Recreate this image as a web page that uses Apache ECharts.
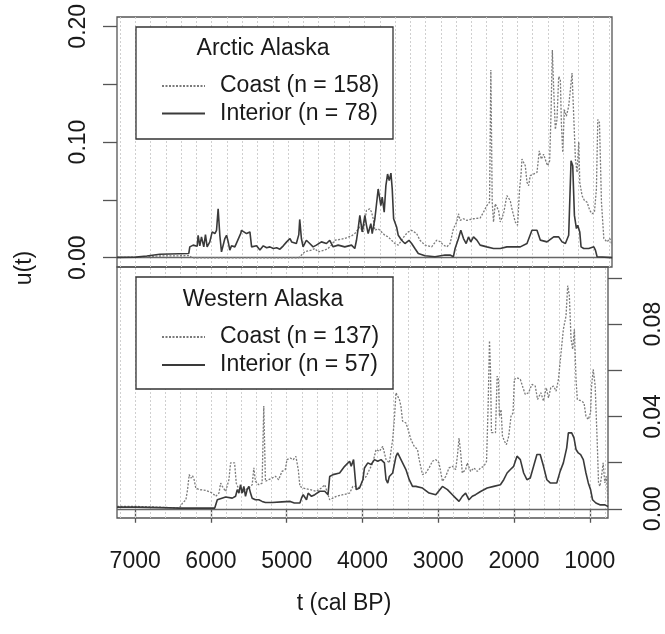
<!DOCTYPE html>
<html>
<head>
<meta charset="utf-8">
<script src="https://cdn.jsdelivr.net/npm/echarts@6/dist/echarts.min.js"></script>
<style>
	html, body { margin: 0; padding: 0; background: #fff; }
	#chart { width: 665px; height: 634px; }
</style>
</head>
<body>
<div id="chart"></div>
<script>
	// t (cal BP), u(t)
	var arcticCoast = [[7240,0.0003],[6990,0.0005],[6680,0.0015],[6290,0.0018],[6260,0],[4860,0],[4848,0.0008],[4783,0.0051],[4695,0.0066],[4651,0.0080],[4608,0.0051],[4520,0.0066],[4477,0.0080],[4433,0.0109],[4389,0.0151],[4302,0.0160],[4236,0.0172],[4170,0.0189],[4127,0.0209],[4105,0.0194],[4061,0.0266],[4017,0.0223],[3974,0.0409],[3930,0.0423],[3908,0.0394],[3886,0.0337],[3864,0.0237],[3821,0.0251],[3777,0.0223],[3733,0.0194],[3689,0.0180],[3646,0.0151],[3602,0.0123],[3558,0.0109],[3514,0.0151],[3471,0.0194],[3427,0.0223],[3383,0.0237],[3318,0.0209],[3274,0.0151],[3208,0.0109],[3121,0.0094],[3055,0.0151],[3011,0.0140],[2967,0.0109],[2923,0.0094],[2879,0.0123],[2836,0.0252],[2792,0.0309],[2770,0.0380],[2748,0.0323],[2704,0.0337],[2661,0.0323],[2573,0.0337],[2486,0.0343],[2442,0.0394],[2398,0.0451],[2363,0.0480],[2346,0.1623],[2328,0.0480],[2311,0.0309],[2289,0.0466],[2245,0.0409],[2223,0.0309],[2180,0.0380],[2136,0.0537],[2092,0.0494],[2070,0.0423],[2027,0.0309],[1996,0.0280],[1970,0.0595],[1952,0.0709],[1939,0.0852],[1917,0.0837],[1895,0.0795],[1873,0.0652],[1852,0.0623],[1830,0.0709],[1786,0.0723],[1742,0.0737],[1712,0.0923],[1685,0.0852],[1655,0.0895],[1620,0.0823],[1602,0.0795],[1576,0.0837],[1558,0.1252],[1541,0.1795],[1523,0.1452],[1502,0.1109],[1480,0.1195],[1458,0.1566],[1436,0.1538],[1423,0.1166],[1405,0.0909],[1384,0.1280],[1357,0.1223],[1327,0.1309],[1283,0.1595],[1261,0.1223],[1239,0.0852],[1217,0.0737],[1195,0.1000],[1182,0.0652],[1152,0.0537],[1121,0.0494],[1086,0.0480],[1051,0.0409],[1020,0.0380],[990,0.0394],[964,0.0595],[946,0.1194],[924,0.1166],[898,0.0480],[867,0.0166],[824,0.0137],[789,0.0166],[758,0.0109]];

	var arcticInterior = [[7240,0.0003],[6990,0.0005],[6850,0.0015],[6680,0.0030],[6300,0.0037],[6287,0.0094],[6243,0.0109],[6190,0.0100],[6178,0.0194],[6156,0.0103],[6134,0.0180],[6104,0.0094],[6082,0.0200],[6060,0.0094],[6025,0.0137],[5994,0.0223],[5959,0.0209],[5937,0.0237],[5916,0.0423],[5894,0.0194],[5872,0.0051],[5850,0.0066],[5828,0.0166],[5806,0.0194],[5784,0.0137],[5763,0.0066],[5741,0.0103],[5697,0.0094],[5620,0.0210],[5610,0.0237],[5588,0.0223],[5544,0.0209],[5500,0.0223],[5478,0.0094],[5456,0.0080],[5413,0.0103],[5369,0.0066],[5325,0.0103],[5281,0.0086],[5238,0.0094],[5194,0.0080],[5150,0.0086],[5107,0.0074],[5063,0.0103],[5019,0.0137],[4975,0.0166],[4954,0.0137],[4892,0.0123],[4860,0.0200],[4848,0.0331],[4826,0.0166],[4804,0.0094],[4761,0.0151],[4717,0.0123],[4673,0.0094],[4630,0.0109],[4564,0.0137],[4498,0.0123],[4455,0.0151],[4411,0.0094],[4345,0.0109],[4258,0.0094],[4170,0.0109],[4127,0.0080],[4105,0.0151],[4083,0.0251],[4061,0.0366],[4030,0.0223],[3995,0.0366],[3974,0.0280],[3952,0.0209],[3917,0.0294],[3899,0.0209],[3864,0.0337],[3821,0.0594],[3786,0.0451],[3768,0.0523],[3742,0.0394],[3720,0.0623],[3698,0.0723],[3676,0.0666],[3654,0.0731],[3637,0.0594],[3619,0.0337],[3580,0.0266],[3558,0.0194],[3514,0.0151],[3471,0.0123],[3418,0.0151],[3383,0.0123],[3340,0.0080],[3296,0.0037],[3208,0.0017],[3077,0.0008],[2946,0.0023],[2880,0.0023],[2836,0.0009],[2814,0.0080],[2770,0.0166],[2739,0.0237],[2704,0.0166],[2669,0.0123],[2639,0.0180],[2608,0.0137],[2573,0.0180],[2529,0.0152],[2486,0.0109],[2398,0.0094],[2311,0.0080],[2223,0.0080],[2136,0.0094],[2048,0.0094],[1961,0.0094],[1873,0.0123],[1808,0.0237],[1742,0.0237],[1698,0.0152],[1611,0.0137],[1523,0.0180],[1458,0.0180],[1414,0.0137],[1370,0.0123],[1327,0.0194],[1296,0.0838],[1274,0.0795],[1252,0.0366],[1226,0.0252],[1209,0.0280],[1182,0.0223],[1165,0.0094],[1130,0.0080],[1064,0.0080],[998,0.0094],[977,0.0066],[955,0.0009],[758,0.0001]];

	var westernCoast = [[7240,0.0010],[6987,0.0010],[6681,0.0007],[6418,0.0003],[6375,0.0025],[6331,0.0039],[6309,0.0083],[6287,0.0148],[6265,0.0133],[6243,0.0143],[6222,0.0126],[6200,0.0090],[6156,0.0083],[6069,0.0080],[5981,0.0068],[5937,0.0054],[5916,0.0046],[5894,0.0068],[5872,0.0111],[5850,0.0097],[5806,0.0075],[5763,0.0126],[5741,0.0199],[5719,0.0206],[5688,0.0199],[5666,0.0111],[5631,0.0083],[5588,0.0068],[5544,0.0083],[5500,0.0090],[5478,0.0083],[5456,0.0104],[5434,0.0177],[5413,0.0119],[5369,0.0104],[5325,0.0111],[5303,0.0445],[5281,0.0119],[5238,0.0126],[5194,0.0133],[5150,0.0141],[5107,0.0126],[5063,0.0162],[5019,0.0170],[4997,0.0213],[4954,0.0220],[4914,0.0213],[4879,0.0227],[4848,0.0170],[4826,0.0097],[4783,0.0090],[4695,0.0083],[4608,0.0076],[4542,0.0090],[4498,0.0104],[4476,0.0097],[4433,0.0039],[4345,0.0054],[4258,0.0061],[4170,0.0068],[4127,0.0097],[4083,0.0097],[4039,0.0090],[3995,0.0126],[3952,0.0140],[3908,0.0170],[3864,0.0199],[3821,0.0257],[3777,0.0249],[3733,0.0271],[3689,0.0213],[3646,0.0199],[3602,0.0300],[3580,0.0387],[3558,0.0503],[3536,0.0503],[3514,0.0474],[3493,0.0445],[3471,0.0380],[3427,0.0372],[3405,0.0351],[3361,0.0300],[3318,0.0271],[3274,0.0257],[3252,0.0213],[3208,0.0148],[3165,0.0155],[3121,0.0177],[3077,0.0206],[3033,0.0213],[2990,0.0199],[2945,0.0119],[2901,0.0141],[2858,0.0177],[2814,0.0184],[2770,0.0170],[2748,0.0228],[2726,0.0307],[2704,0.0242],[2683,0.0155],[2639,0.0170],[2617,0.0199],[2573,0.0162],[2529,0.0177],[2486,0.0162],[2442,0.0177],[2398,0.0184],[2363,0.0206],[2341,0.0459],[2324,0.0728],[2311,0.0604],[2298,0.0330],[2276,0.0322],[2245,0.0330],[2223,0.0575],[2206,0.0561],[2193,0.0401],[2171,0.0430],[2153,0.0315],[2127,0.0293],[2101,0.0278],[2070,0.0315],[2040,0.0401],[2013,0.0416],[1996,0.0561],[1961,0.0568],[1917,0.0561],[1882,0.0525],[1852,0.0496],[1808,0.0503],[1764,0.0539],[1720,0.0532],[1690,0.0474],[1646,0.0503],[1611,0.0467],[1576,0.0525],[1545,0.0481],[1515,0.0525],[1480,0.0532],[1445,0.0510],[1414,0.0561],[1384,0.0662],[1349,0.0778],[1314,0.0836],[1292,0.0967],[1270,0.0923],[1248,0.0736],[1226,0.0691],[1204,0.0778],[1182,0.0561],[1165,0.0474],[1139,0.0481],[1108,0.0467],[1077,0.0459],[1051,0.0401],[1020,0.0387],[990,0.0416],[977,0.0532],[955,0.0604],[929,0.0532],[902,0.0286],[885,0.0112],[867,0.0097],[845,0.0141],[824,0.0199],[802,0.0112],[780,0.0141],[758,0.0025]];

	var westernInterior = [[7240,0.0007],[6987,0.0007],[6681,0.0005],[6418,0.0003],[5950,0.0003],[5937,0.0010],[5916,0.0039],[5894,0.0046],[5806,0.0051],[5719,0.0046],[5675,0.0054],[5653,0.0083],[5631,0.0068],[5609,0.0104],[5588,0.0068],[5566,0.0097],[5544,0.0054],[5522,0.0083],[5500,0.0097],[5478,0.0068],[5456,0.0046],[5413,0.0039],[5369,0.0039],[5347,0.0046],[5325,0.0032],[5281,0.0027],[5194,0.0027],[5063,0.0030],[4954,0.0032],[4900,0.0025],[4826,0.0025],[4804,0.0047],[4783,0.0061],[4739,0.0039],[4717,0.0068],[4673,0.0054],[4630,0.0061],[4564,0.0076],[4498,0.0076],[4455,0.0061],[4433,0.0140],[4389,0.0148],[4302,0.0155],[4236,0.0184],[4214,0.0177],[4170,0.0206],[4149,0.0184],[4118,0.0213],[4105,0.0220],[4083,0.0083],[4039,0.0090],[3995,0.0126],[3974,0.0177],[3930,0.0199],[3886,0.0192],[3842,0.0213],[3799,0.0206],[3755,0.0213],[3711,0.0199],[3689,0.0126],[3667,0.0111],[3646,0.0140],[3602,0.0155],[3558,0.0227],[3536,0.0242],[3514,0.0242],[3471,0.0199],[3427,0.0170],[3383,0.0126],[3340,0.0097],[3296,0.0097],[3208,0.0090],[3121,0.0068],[3033,0.0061],[2945,0.0097],[2879,0.0083],[2814,0.0061],[2770,0.0046],[2726,0.0032],[2683,0.0054],[2639,0.0068],[2595,0.0039],[2551,0.0054],[2508,0.0061],[2442,0.0075],[2355,0.0090],[2267,0.0097],[2180,0.0104],[2136,0.0126],[2092,0.0155],[2048,0.0170],[2005,0.0184],[1961,0.0228],[1917,0.0213],[1873,0.0155],[1830,0.0126],[1786,0.0133],[1742,0.0184],[1698,0.0235],[1655,0.0235],[1611,0.0184],[1567,0.0126],[1523,0.0112],[1480,0.0112],[1436,0.0112],[1392,0.0162],[1349,0.0199],[1305,0.0264],[1283,0.0329],[1239,0.0329],[1209,0.0307],[1182,0.0257],[1152,0.0242],[1121,0.0235],[1086,0.0213],[1051,0.0155],[1020,0.0112],[990,0.0083],[964,0.0039],[920,0.0025],[867,0.0017],[802,0.0017],[758,0.0010]];

	var xTicks = [1000, 2000, 3000, 4000, 5000, 6000, 7000];
	var gridYears = [800,1000,1200,1400,1600,1800,2000,2200,2400,2600,2800,3000,3200,3400,3600,3800,4000,4200,4400,4600,4800,5000,5200,5400,5600,5800,6000,6200,6400,6600,6800,7000,7200];
	var topTicks = [0, 0.05, 0.10, 0.15, 0.20];
	var topLabels = [0, 0.10, 0.20];
	var bottomTicks = [0, 0.02, 0.04, 0.06, 0.08, 0.10];
	var bottomLabels = [0, 0.04, 0.08];
	var legendTop = ['Coast (n = 158)', 'Interior (n = 78)'];
	var legendBottom = ['Coast (n = 137)', 'Interior (n = 57)'];

	var font = 'Liberation Sans, Arial, sans-serif';
	var fs = 23;
	var ink = '#1a1a1a';
	var coastColor = '#7a7a7a';
	var interiorColor = '#3a3a3a';

	var myChart = echarts.init(document.getElementById('chart'));

	// dotted vertical guides every 200 yr plus the solid zero line
	function guideLines() {
		var d = gridYears.map(function(v) { return { xAxis: v }; });
		d.push({ yAxis: 0, lineStyle: { type: 'solid', color: '#666', width: 1.3 } });
		return {
			silent: true,
			symbol: ['none', 'none'],
			z: 1,
			label: { show: false },
			lineStyle: { type: [2, 2], color: '#cfcfcf', width: 1 },
			data: d
		};
	}

	function lineSeries(name, data, idx, dotted) {
		var s = {
			name: name,
			type: 'line',
			xAxisIndex: idx,
			yAxisIndex: idx,
			data: data,
			symbol: 'none',
			color: dotted ? coastColor : interiorColor,
			lineStyle: {
				color: dotted ? coastColor : interiorColor,
				width: dotted ? 1.3 : 1.6,
				type: dotted ? [2, 1.5] : 'solid'
			},
			z: dotted ? 2 : 3
		};
		if (dotted) s.markLine = guideLines();
		return s;
	}

	function legendBox(top) {
		return {
			type: 'rect',
			shape: { x: 136, y: top, width: 257, height: 112 },
			style: { fill: '#fff', stroke: '#333', lineWidth: 1.3 },
			z: 10
		};
	}

	function legendOpt(names, top, gap) {
		return {
			data: names,
			orient: 'vertical',
			left: 156,
			top: top,
			itemWidth: 43,
			itemHeight: 14,
			itemGap: gap,
			z: 20,
			itemStyle: { opacity: 0 },
			textStyle: { fontSize: fs, color: ink, lineHeight: 26, padding: [0, 0, 0, 10], fontFamily: font }
		};
	}

	function label(text, x, y, rot) {
		return {
			type: 'text', z: 11, x: x, y: y, rotation: rot || 0,
			style: { text: text, x: 0, y: 0, font: fs + 'px ' + font, fill: ink, textAlign: 'center', textVerticalAlign: 'middle' }
		};
	}

	var fmt = function(v) { return v.toFixed(2); };

	var option = {
		animation: false,
		backgroundColor: '#fff',
		textStyle: { fontFamily: font },
		grid: [
			{ left: 117, top: 17, width: 495, height: 250, show: true, borderColor: '#555', borderWidth: 1.3 },
			{ left: 117, top: 267, width: 495, height: 251, show: true, borderColor: '#555', borderWidth: 1.3 }
		],
		xAxis: [{
			gridIndex: 0,
			type: 'value',
			min: 760,
			max: 7240,
			inverse: true,
			axisLine: { show: false },
			axisTick: { show: false },
			axisLabel: { show: false },
			splitLine: { show: false }
		}, {
			gridIndex: 1,
			type: 'value',
			min: 760,
			max: 7240,
			inverse: true,
			axisLine: { show: false },
			axisTick: { show: true, customValues: xTicks, length: 14, lineStyle: { color: '#555', width: 1.3 } },
			axisLabel: {
				customValues: xTicks, fontSize: fs, color: ink, margin: 32, fontFamily: font,
				formatter: function(v) { return String(v); }
			},
			splitLine: { show: false }
		}],
		yAxis: [{
			gridIndex: 0,
			type: 'value',
			position: 'left',
			min: -0.008,
			max: 0.208,
			axisLine: { show: false },
			axisTick: { show: true, customValues: topTicks, length: 14, lineStyle: { color: '#555', width: 1.3 } },
			axisLabel: { customValues: topLabels, rotate: 90, fontSize: fs, color: ink, margin: 27, formatter: fmt, fontFamily: font },
			splitLine: { show: false }
		}, {
			gridIndex: 1,
			type: 'value',
			position: 'right',
			min: -0.004,
			max: 0.1048,
			axisLine: { show: false },
			axisTick: { show: true, customValues: bottomTicks, length: 14, lineStyle: { color: '#555', width: 1.3 } },
			axisLabel: { customValues: bottomLabels, rotate: 90, fontSize: fs, color: ink, margin: 34, formatter: fmt, fontFamily: font },
			splitLine: { show: false }
		}],
		legend: [
			legendOpt(legendTop, 68, 1.5),
			legendOpt(legendBottom, 319, 2)
		],
		graphic: [
			legendBox(27),
			legendBox(277),
			label('Arctic Alaska', 263, 49),
			label('Western Alaska', 263, 300),
			label('u(t)', 25, 268, Math.PI / 2),
			label('t (cal BP)', 344, 604)
		],
		series: [
			lineSeries(legendTop[0], arcticCoast, 0, true),
			lineSeries(legendTop[1], arcticInterior, 0, false),
			lineSeries(legendBottom[0], westernCoast, 1, true),
			lineSeries(legendBottom[1], westernInterior, 1, false)
		]
	};
	myChart.setOption(option);
</script>
</body>
</html>
